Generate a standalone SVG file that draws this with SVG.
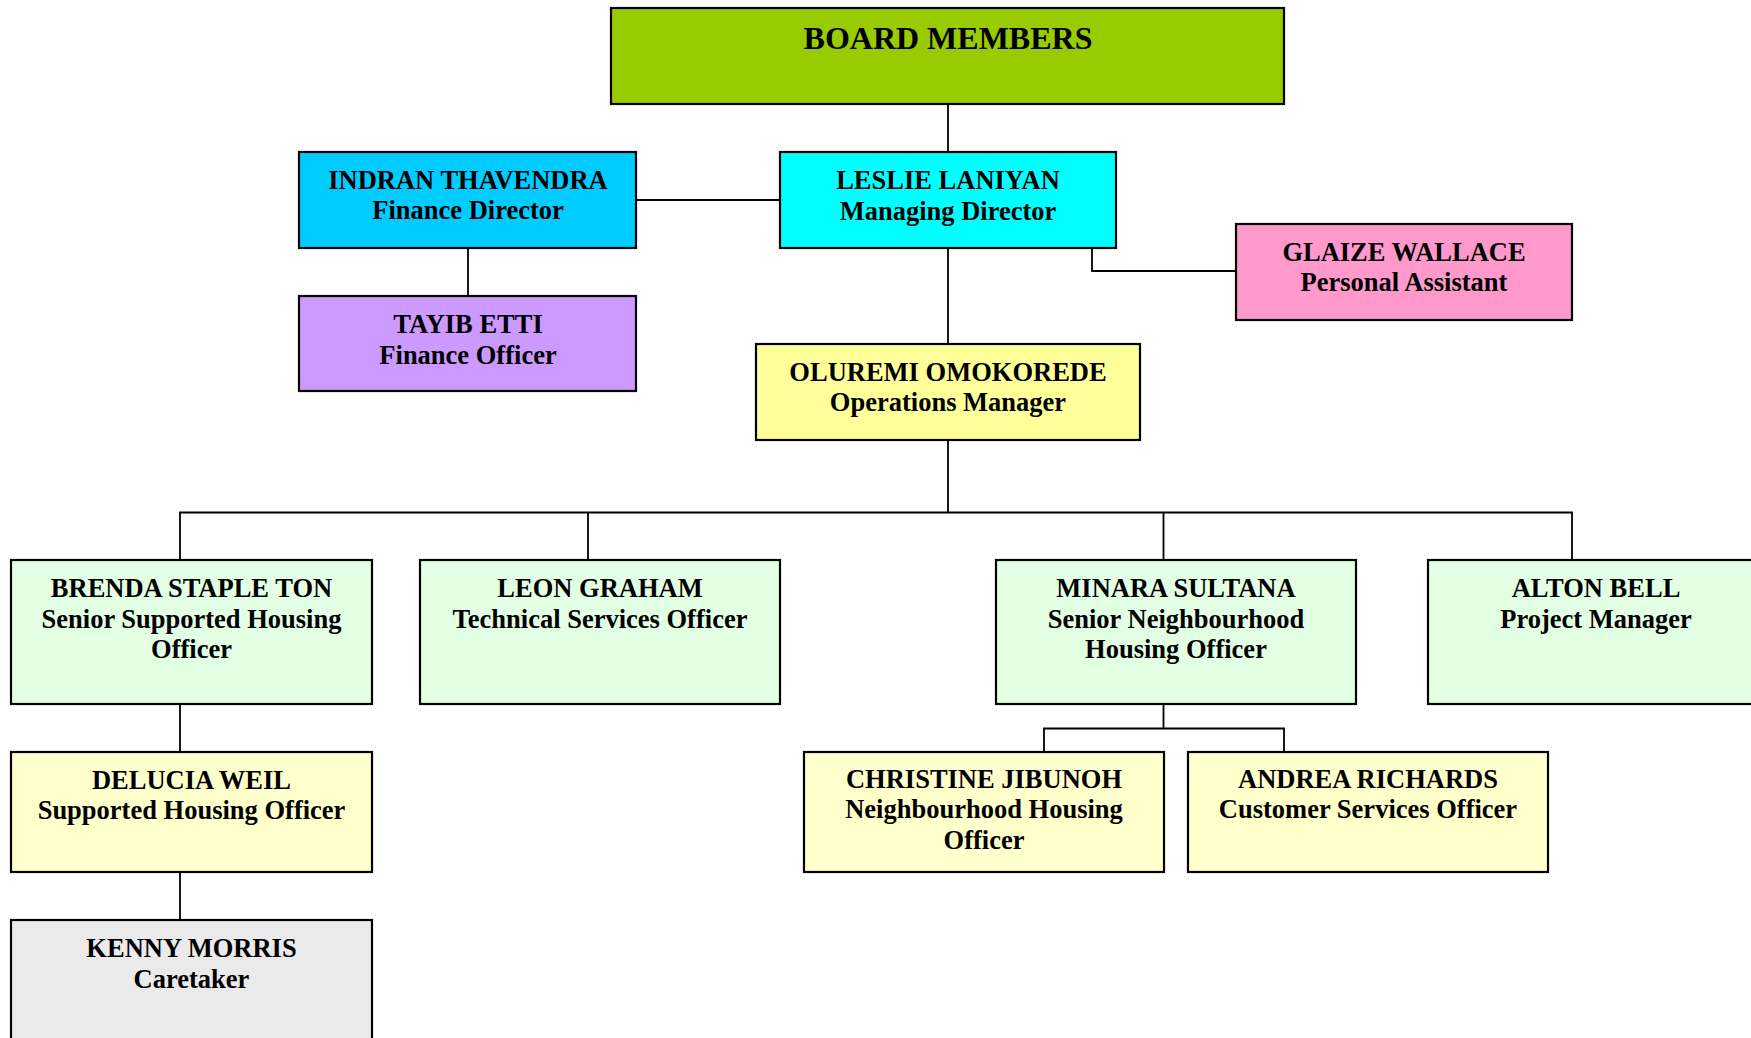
<svg xmlns="http://www.w3.org/2000/svg" width="1751" height="1038" viewBox="0 0 1751 1038">
<style>
.box{stroke:#000;stroke-width:2.2}
.t{font-family:"Liberation Serif","Times New Roman",serif;font-weight:bold;font-size:26.5px;fill:#000;text-anchor:middle}
.big{font-size:32px}
.c{fill:none;stroke:#000;stroke-width:1.8}
</style>
<rect width="1751" height="1038" fill="#fff"/>
<g id="connectors">
<path class="c" d="M948 104V152"/>
<path class="c" d="M636 200H780"/>
<path class="c" d="M468 248V296"/>
<path class="c" d="M1092 248V271H1236"/>
<path class="c" d="M948 248V344"/>
<path class="c" d="M948 440V512.5M180 560V512.5H1572V560M588 512.5V560M1163.5 512.5V560"/>
<path class="c" d="M180 704V752M180 872V920"/>
<path class="c" d="M1163.5 704V728.5M1044 752V728.5H1284V752"/>
</g>
<g id="board">
<rect class="box" x="611" y="8" width="673" height="96" fill="#99CC00"/>
<text class="t big" x="948" y="49">BOARD MEMBERS</text>
</g>
<g id="leslie">
<rect class="box" x="780" y="152" width="336" height="96" fill="#00FFFF"/>
<text class="t" x="948" y="189">LESLIE LANIYAN</text>
<text class="t" x="948" y="219.5">Managing Director</text>
</g>
<g id="indran">
<rect class="box" x="299" y="152" width="337" height="96" fill="#00CCFF"/>
<text class="t" x="468" y="188.5">INDRAN THAVENDRA</text>
<text class="t" x="468" y="219">Finance Director</text>
</g>
<g id="tayib">
<rect class="box" x="299" y="296" width="337" height="95" fill="#CC99FF"/>
<text class="t" x="468" y="333">TAYIB ETTI</text>
<text class="t" x="468" y="363.5">Finance Officer</text>
</g>
<g id="glaize">
<rect class="box" x="1236" y="224" width="336" height="96" fill="#FF99CC"/>
<text class="t" x="1404" y="260.5">GLAIZE WALLACE</text>
<text class="t" x="1404" y="291">Personal Assistant</text>
</g>
<g id="oluremi">
<rect class="box" x="756" y="344" width="384" height="96" fill="#FFFF99"/>
<text class="t" x="948" y="380.5">OLUREMI OMOKOREDE</text>
<text class="t" x="948" y="411">Operations Manager</text>
</g>
<g id="brenda">
<rect class="box" x="11" y="560" width="361" height="144" fill="#E3FFE3"/>
<text class="t" x="191.5" y="597">BRENDA STAPLE TON</text>
<text class="t" x="191.5" y="627.5">Senior Supported Housing</text>
<text class="t" x="191.5" y="658">Officer</text>
</g>
<g id="leon">
<rect class="box" x="420" y="560" width="360" height="144" fill="#E3FFE3"/>
<text class="t" x="600" y="597">LEON GRAHAM</text>
<text class="t" x="600" y="627.5">Technical Services Officer</text>
</g>
<g id="minara">
<rect class="box" x="996" y="560" width="360" height="144" fill="#E3FFE3"/>
<text class="t" x="1176" y="597">MINARA SULTANA</text>
<text class="t" x="1176" y="627.5">Senior Neighbourhood</text>
<text class="t" x="1176" y="658">Housing Officer</text>
</g>
<g id="alton">
<rect class="box" x="1428" y="560" width="361" height="144" fill="#E3FFE3"/>
<text class="t" x="1596" y="597">ALTON BELL</text>
<text class="t" x="1596" y="627.5">Project Manager</text>
</g>
<g id="delucia">
<rect class="box" x="11" y="752" width="361" height="120" fill="#FFFFCC"/>
<text class="t" x="191.5" y="788.5">DELUCIA WEIL</text>
<text class="t" x="191.5" y="819">Supported Housing Officer</text>
</g>
<g id="kenny">
<rect class="box" x="11" y="920" width="361" height="144" fill="#EAEAEA"/>
<text class="t" x="191.5" y="956.5">KENNY MORRIS</text>
<text class="t" x="191.5" y="987.5">Caretaker</text>
</g>
<g id="christine">
<rect class="box" x="804" y="752" width="360" height="120" fill="#FFFFCC"/>
<text class="t" x="984" y="788">CHRISTINE JIBUNOH</text>
<text class="t" x="984" y="818">Neighbourhood Housing</text>
<text class="t" x="984" y="848.5">Officer</text>
</g>
<g id="andrea">
<rect class="box" x="1188" y="752" width="360" height="120" fill="#FFFFCC"/>
<text class="t" x="1368" y="788">ANDREA RICHARDS</text>
<text class="t" x="1368" y="818">Customer Services Officer</text>
</g>
</svg>
